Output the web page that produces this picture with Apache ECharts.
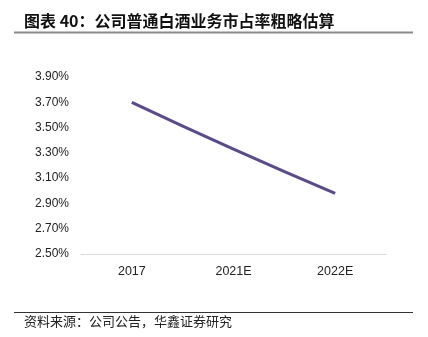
<!DOCTYPE html>
<html>
<head>
<meta charset="utf-8">
<script src="https://cdn.jsdelivr.net/npm/echarts@6/dist/echarts.min.js"></script>
<style>
html,body{margin:0;padding:0;background:#fff;}
#main{width:428px;height:337px;}
</style>
</head>
<body>
<div id="main"></div>
<script>
const categories = ['2017', '2021E', '2022E'];
const shareValues = [3.70, 3.33, 2.98];
const yMin = 2.5, yMax = 3.9, yStep = 0.2;
const titleText = '图表 40：公司普通白酒业务市占率粗略估算';
const sourceText = '资料来源：公司公告，华鑫证券研究';

const chart = echarts.init(document.getElementById('main'));
chart.setOption({
  animation: false,
  backgroundColor: '#fff',
  grid: { left: 81, right: 42, top: 77, bottom: 83 },
  xAxis: {
    type: 'category',
    data: categories,
    boundaryGap: true,
    axisLine: { lineStyle: { color: '#d9d9d9', width: 1 } },
    axisTick: { show: false },
    axisLabel: { color: '#222', fontSize: 12.5, margin: 11, fontFamily: 'Liberation Sans, Arial' }
  },
  yAxis: {
    type: 'value',
    min: yMin, max: yMax, interval: yStep,
    axisLine: { show: false },
    axisTick: { show: false },
    splitLine: { show: false },
    axisLabel: {
      color: '#222', fontSize: 12, margin: 12, fontFamily: 'Liberation Sans, Arial',
      formatter: v => v.toFixed(2) + '%'
    }
  },
  series: [{
    type: 'line',
    data: shareValues,
    smooth: true,
    symbol: 'none',
    lineStyle: { color: '#5a4a88', width: 3 }
  }],
  graphic: [
    { type: 'text', left: 24, top: 13, style: { text: titleText, font: 'bold 16px "Noto Sans CJK SC"', fill: '#111' } },
    { type: 'line', shape: { x1: 14, y1: 32.5, x2: 413, y2: 32.5 }, style: { stroke: '#8a8a8a', lineWidth: 2 } },
    { type: 'line', shape: { x1: 14, y1: 312.5, x2: 413, y2: 312.5 }, style: { stroke: '#333', lineWidth: 1 } },
    { type: 'text', left: 24, top: 315, style: { text: sourceText, font: '13px "Noto Sans CJK SC"', fill: '#222' } }
  ]
});
</script>
</body>
</html>
